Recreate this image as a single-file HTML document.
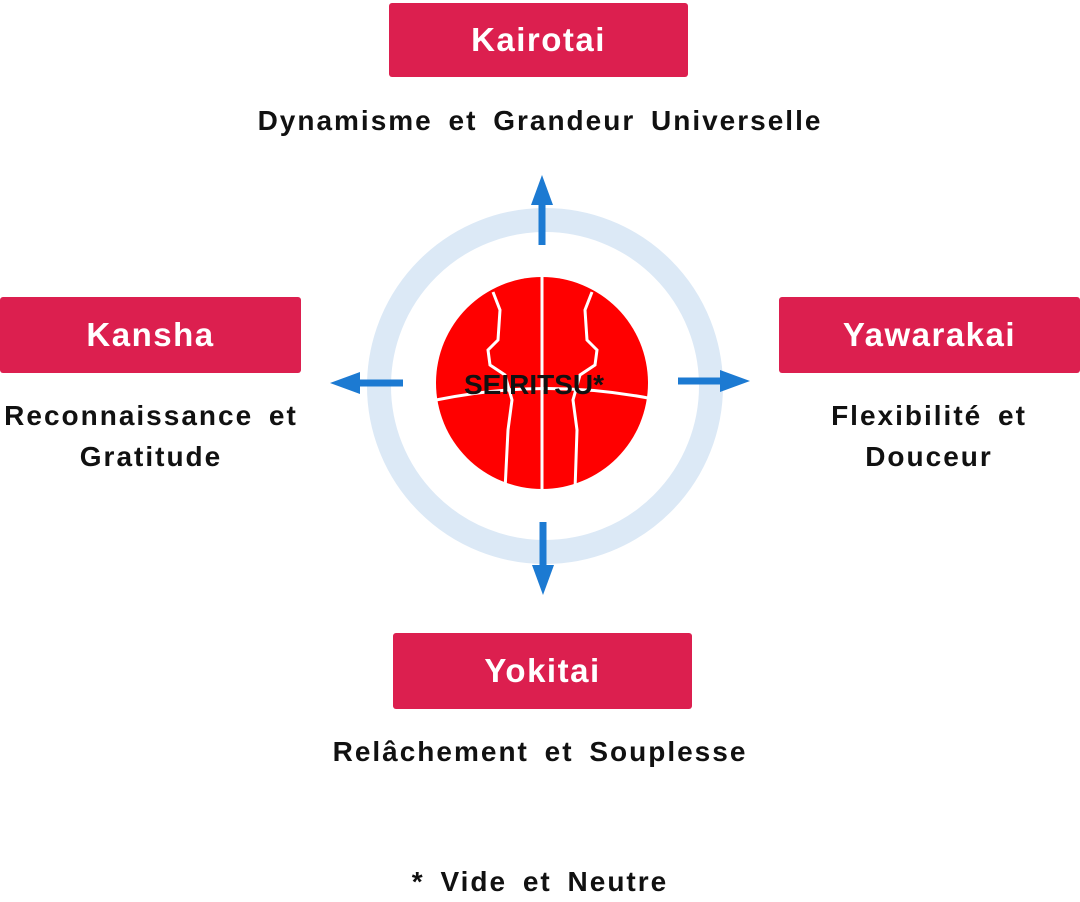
<!DOCTYPE html>
<html><head><meta charset="utf-8"><style>
body{margin:0;width:1080px;height:900px;background:#fff;position:relative;overflow:hidden;font-family:"Liberation Sans",sans-serif;}
.b{position:absolute;background:#dc1f4f;color:#fff;font-weight:bold;font-size:33px;letter-spacing:1.5px;display:flex;align-items:center;justify-content:center;border-radius:3px;}
.t{position:absolute;font-weight:bold;font-size:28px;letter-spacing:2px;word-spacing:6px;color:#111;text-align:center;line-height:41px;}
</style></head><body>
<div class="b" style="left:389px;top:3px;width:299px;height:74px">Kairotai</div>
<div class="b" style="left:0;top:297px;width:301px;height:76px">Kansha</div>
<div class="b" style="left:779px;top:297px;width:301px;height:76px">Yawarakai</div>
<div class="b" style="left:393px;top:633px;width:299px;height:76px">Yokitai</div>
<div class="t" style="left:190px;top:100px;width:700px">Dynamisme et Grandeur Universelle</div>
<div class="t" style="left:0;top:395px;width:302px">Reconnaissance et<br>Gratitude</div>
<div class="t" style="left:780px;top:395px;width:298px">Flexibilité et<br>Douceur</div>
<div class="t" style="left:290px;top:731px;width:500px">Relâchement et Souplesse</div>
<div class="t" style="left:290px;top:861px;width:500px">* Vide et Neutre</div>
<svg width="1080" height="900" style="position:absolute;left:0;top:0">
<circle cx="545" cy="386" r="166" fill="none" stroke="#dce9f6" stroke-width="24"/>
<circle cx="542" cy="383" r="106" fill="#ff0000"/>
<g stroke="#fff" stroke-width="3" fill="none">
<line x1="542" y1="276" x2="542" y2="492"/>
<path d="M436 400 Q542 378 648 398"/>
<path d="M493 292 L500 310 498 340 488 350 490 365 505 375 512 400 508 430 505 490"/>
<path d="M592 292 L585 310 587 340 597 350 595 365 580 375 573 400 577 430 575 490"/>
</g>
<text x="534" y="394" text-anchor="middle" font-family="Liberation Sans" font-size="28" font-weight="bold" fill="#111">SEIRITSU*</text>
<g stroke="#1c7ad2" stroke-width="7" fill="#1c7ad2">
<line x1="542" y1="245" x2="542" y2="195"/><polygon points="531,205 542,175 553,205" stroke="none"/>
<line x1="543" y1="522" x2="543" y2="575"/><polygon points="532,565 543,595 554,565" stroke="none"/>
<line x1="403" y1="383" x2="350" y2="383"/><polygon points="360,372 330,383 360,394" stroke="none"/>
<line x1="678" y1="381" x2="730" y2="381"/><polygon points="720,370 750,381 720,392" stroke="none"/>
</g>
</svg>
</body></html>
